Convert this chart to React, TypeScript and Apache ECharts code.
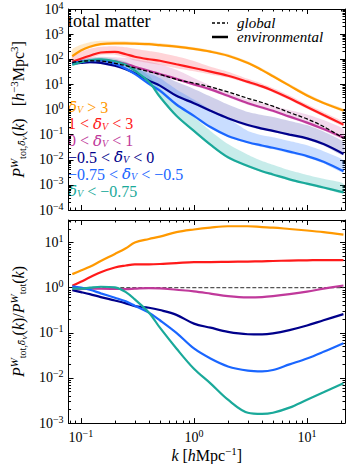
import React, { useEffect, useRef } from "react";
import * as echarts from "echarts";

// wavenumber grid k [h/Mpc]
const K = [0.084, 0.1, 0.12, 0.15, 0.2, 0.25, 0.3, 0.4, 0.5, 0.7, 1, 1.4, 2, 3, 4, 5, 7, 10, 14, 21];

// top panel: power spectra [h^-3 Mpc^3]
const pGlobal = [74, 83, 87, 85, 69, 56, 45, 32, 25, 15.8, 11.2, 7.9, 5.0, 2.8, 1.9, 1.35, 0.76, 0.42, 0.21, 0.072];
const pOrange = [132, 224, 316, 398, 427, 427, 417, 398, 363, 316, 257, 200, 138, 71, 37, 21, 8.9, 3.6, 1.8, 0.91];
const pOrangeLo = [117, 200, 282, 355, 380, 380, 372, 355, 324, 282, 229, 178, 123, 63, 33, 19, 7.9, 3.2, 1.6, 0.81];
const pOrangeHi = [250, 380, 480, 540, 540, 520, 500, 480, 440, 370, 300, 235, 162, 84, 44, 25, 10.5, 4.3, 2.1, 1.08];
const pRed = [79, 105, 138, 186, 195, 158, 126, 100, 87, 63, 45, 32, 22, 12.6, 8.3, 5.6, 2.8, 1.26, 0.6, 0.25];
const pRedLo = [63, 83, 110, 148, 151, 117, 89, 71, 60, 44, 33, 25, 18.6, 10.7, 7.1, 4.8, 2.4, 1.07, 0.51, 0.21];
const pRedHi = [141, 200, 263, 316, 331, 302, 263, 214, 182, 132, 85, 50, 32, 16.6, 10.7, 7.2, 3.6, 1.6, 0.78, 0.32];
const pMagenta = [69, 79, 87, 91, 83, 66, 50, 35, 26, 16.6, 10, 6.3, 3.5, 1.78, 1.2, 0.89, 0.52, 0.3, 0.166, 0.076];
const pMagentaLo = [60, 69, 76, 79, 72, 58, 44, 31, 23, 14.5, 8.7, 5.5, 3.1, 1.55, 1.05, 0.78, 0.46, 0.26, 0.145, 0.066];
const pMagentaHi = [89, 105, 117, 126, 120, 112, 100, 79, 63, 38, 17.8, 8.9, 4.8, 2.5, 1.78, 1.41, 0.95, 0.63, 0.38, 0.166];
const pNavy = [68, 72, 76, 72, 55, 40, 28, 14.1, 8.9, 3.5, 1.78, 0.89, 0.45, 0.24, 0.174, 0.141, 0.1, 0.071, 0.042, 0.017];
const pNavyLo = [60, 65, 68, 65, 49, 35, 25, 12.6, 7.9, 3.2, 1.58, 0.79, 0.4, 0.21, 0.155, 0.126, 0.089, 0.063, 0.037, 0.015];
const pNavyHi = [89, 95, 100, 95, 79, 66, 52, 35, 26, 12.6, 6.6, 3.3, 1.58, 0.79, 0.6, 0.5, 0.35, 0.24, 0.132, 0.05];
const pBlue = [72, 79, 87, 89, 66, 42, 26, 10.5, 5.6, 1.58, 0.56, 0.2, 0.089, 0.05, 0.037, 0.03, 0.021, 0.014, 0.0083, 0.0035];
const pBlueLo = [63, 69, 76, 78, 58, 36, 23, 9.1, 4.9, 1.38, 0.49, 0.174, 0.078, 0.044, 0.032, 0.026, 0.018, 0.0123, 0.0072, 0.0031];
const pBlueHi = [89, 95, 105, 107, 89, 63, 45, 28, 17.8, 6.3, 2.5, 1.0, 0.45, 0.141, 0.095, 0.079, 0.056, 0.038, 0.022, 0.0095];
const pTeal = [60, 76, 91, 100, 83, 60, 35, 12.6, 3.2, 0.56, 0.141, 0.04, 0.0126, 0.0056, 0.0035, 0.0026, 0.00166, 0.00112, 0.00079, 0.0005];
const pTealLo = [54, 68, 81, 89, 74, 54, 32, 11.2, 2.8, 0.5, 0.126, 0.035, 0.0112, 0.005, 0.0032, 0.0023, 0.00148, 0.001, 0.00071, 0.00045];
const pTealHi = [72, 91, 110, 120, 105, 79, 52, 22, 7.1, 1.78, 0.5, 0.141, 0.042, 0.0158, 0.0089, 0.0063, 0.0038, 0.0025, 0.00174, 0.00112];

// bottom panel: ratio to global
const rGlobal = [1, 1, 1, 1, 1, 1, 1, 1, 1, 1, 1, 1, 1, 1, 1, 1, 1, 1, 1, 1];
const rOrange = [2.0, 2.4, 2.9, 3.9, 5.6, 7.5, 10, 12, 13.5, 17, 19.5, 21.5, 23, 23, 22, 21.5, 20, 18.5, 17, 15];
const rRed = [1.1, 1.35, 1.7, 2.2, 2.8, 3.1, 3.3, 3.3, 3.35, 3.5, 3.7, 3.7, 3.75, 3.8, 3.85, 3.9, 4.0, 4.05, 4.1, 4.1];
const rMagenta = [0.9, 0.93, 0.95, 0.95, 0.94, 0.93, 0.95, 0.98, 0.97, 0.9, 0.83, 0.74, 0.65, 0.61, 0.62, 0.65, 0.72, 0.82, 0.95, 1.12];
const rNavy = [0.88, 0.8, 0.72, 0.62, 0.52, 0.45, 0.39, 0.36, 0.32, 0.25, 0.16, 0.13, 0.105, 0.093, 0.092, 0.097, 0.115, 0.145, 0.19, 0.26];
const rBlue = [1.07, 1.0, 0.9, 0.75, 0.6, 0.5, 0.4, 0.28, 0.19, 0.1, 0.045, 0.027, 0.018, 0.0145, 0.014, 0.015, 0.02, 0.027, 0.038, 0.059];
const rTeal = [0.95, 0.95, 1.0, 1.05, 1.02, 0.8, 0.55, 0.28, 0.13, 0.045, 0.016, 0.0076, 0.0033, 0.0017, 0.0016, 0.0017, 0.0022, 0.0033, 0.0048, 0.0076];

const COLORS = {
  orange: "#ff9900",
  red: "#ff1a1a",
  magenta: "#c0399b",
  navy: "#00008b",
  blue: "#1a66ff",
  teal: "#1aa99a",
};
const BANDS = {
  orange: "rgba(255,153,0,0.22)",
  red: "rgba(255,40,60,0.2)",
  magenta: "rgba(200,80,170,0.22)",
  navy: "rgba(40,40,160,0.22)",
  blue: "rgba(40,120,255,0.25)",
  teal: "rgba(30,180,170,0.25)",
};

const LEGEND_LABELS = [
  { text: "{d|δ̄}{s|V}{n| > 3}", color: COLORS.orange },
  { text: "{n|1 < }{d|δ̄}{s|V}{n| < 3}", color: COLORS.red },
  { text: "{n|0 < }{d|δ̄}{s|V}{n| < 1}", color: COLORS.magenta },
  { text: "{n|−0.5 < }{d|δ̄}{s|V}{n| < 0}", color: COLORS.navy },
  { text: "{n|−0.75 < }{d|δ̄}{s|V}{n| < −0.5}", color: COLORS.blue },
  { text: "{d|δ̄}{s|V}{n| < −0.75}", color: COLORS.teal },
];

const FONT = "'Liberation Serif', 'DejaVu Serif', serif";
const DFONT = "'DejaVu Serif', serif";
const L = Math.log10;

const X_MIN = -1.109;
const X_MAX = 1.336;

function minorTicks(dFrom: number, dTo: number, extra: number[] = []) {
  const out: number[] = [];
  for (let d = dFrom; d <= dTo; d++) for (let m = 2; m <= 9; m++) out.push(d + L(m));
  return out.concat(extra);
}
const xMajor = [-1, 0, 1];
const xMinor = [L(0.08), L(0.09)].concat(minorTicks(-1, 0), [L(20)]);
const yTopMajor = [-4, -3, -2, -1, 0, 1, 2, 3, 4];
const yTopMinor = minorTicks(-4, 3);
const yBotMajor = [-3, -2, -1, 0, 1];
const yBotMinor = minorTicks(-3, 0, [1 + L(2), 1 + L(3)]);

const powLabel = (v: number) => {
  const e = Math.round(v);
  return `{b|10}{s|${e < 0 ? "−" + -e : e}}`;
};
const tickRich = {
  b: { fontSize: 14, fontFamily: FONT, color: "#000" },
  s: { fontSize: 10, fontFamily: FONT, color: "#000", padding: [0, 0, 8, 0] },
};
const titleRich = {
  n: { fontSize: 16, fontFamily: FONT, color: "#000" },
  i: { fontSize: 16, fontFamily: FONT, fontStyle: "italic", color: "#000" },
  sup: { fontSize: 11, fontFamily: FONT, fontStyle: "italic", color: "#000", padding: [0, 0, 9, 0] },
  supn: { fontSize: 11, fontFamily: FONT, color: "#000", padding: [0, 0, 9, 0] },
  sub: { fontSize: 10, fontFamily: FONT, color: "#000", padding: [8, 0, 0, 0] },
  subi: { fontSize: 9, fontFamily: DFONT, fontStyle: "italic", color: "#000", padding: [8, 0, 0, 0] },
  subsub: { fontSize: 7, fontFamily: FONT, fontStyle: "italic", color: "#000", padding: [13, 0, 0, 0] },
};

function axisSet(
  dim: "x" | "y",
  gridIndex: number,
  min: number,
  max: number,
  major: number[],
  minor: number[],
  showLabels: boolean,
  name?: string,
  nameGap?: number
) {
  const posA = dim === "x" ? "bottom" : "left";
  const posB = dim === "x" ? "top" : "right";
  const base = (position: string, ticks: number[], len: number, line: boolean, labels: boolean) => ({
    type: "value",
    gridIndex,
    position,
    min,
    max,
    axisLine: { show: line, onZero: false, lineStyle: { color: "#000", width: 1 } },
    axisTick: { show: true, inside: true, length: len, customValues: ticks, lineStyle: { color: "#000", width: 1 } },
    axisLabel: labels
      ? { show: true, customValues: major, formatter: powLabel, rich: tickRich, margin: 5, color: "#000" }
      : { show: false },
    splitLine: { show: false },
  });
  const main: any = base(posA, major, 5, true, showLabels);
  if (name) {
    main.name = name;
    main.nameLocation = "middle";
    main.nameGap = nameGap;
    main.nameTextStyle = { rich: titleRich, color: "#000" };
  }
  return [main, base(posA, minor, 2.5, false, false), base(posB, major, 5, true, false), base(posB, minor, 2.5, false, false)];
}

function lineSeries(vals: number[], color: string, axis: number, extra: any = {}) {
  return {
    type: "line",
    xAxisIndex: axis,
    yAxisIndex: axis,
    data: K.map((k, i) => [L(k), L(vals[i])]),
    showSymbol: false,
    smooth: 0.35,
    silent: true,
    lineStyle: { color, width: 2.2 },
    z: 3,
    ...extra,
  };
}

function bandSeries(lo: number[], hi: number[], fill: string) {
  const data = K.map((k, i) => [L(k), L(lo[i]), L(hi[i])]);
  return {
    type: "custom",
    xAxisIndex: 0,
    yAxisIndex: 0,
    silent: true,
    z: 1,
    data,
    encode: { x: 0, y: [1, 2] },
    renderItem: (params: any, api: any) => {
      if (params.dataIndex !== 0) return null;
      const up = data.map((d) => api.coord([d[0], d[2]]));
      const dn = data.map((d) => api.coord([d[0], d[1]])).reverse();
      return { type: "polygon", shape: { points: up.concat(dn), smooth: 0.2 }, style: { fill } };
    },
  };
}

export default function App() {
  const ref = useRef<HTMLDivElement>(null);
  useEffect(() => {
    if (!ref.current) return;
    const chart = echarts.init(ref.current, undefined, { renderer: "svg" });
    const topName =
      "{i|P}{sup|W}{sub|tot,}{subi|δ̄}{subsub|V}{n|(}{i|k}{n|)   [}{i|h}{supn|−3}{n|Mpc}{supn|3}{n|]}";
    const botName =
      "{i|P}{sup|W}{sub|tot,}{subi|δ̄}{subsub|V}{n|(}{i|k}{n|)/}{i|P}{sup|W}{sub|tot}{n|(}{i|k}{n|)}";
    const xName = "{i|k}{n| [}{i|h}{n|Mpc}{supn|−1}{n|]}";

    const xAxes = [
      ...axisSet("x", 0, X_MIN, X_MAX, xMajor, xMinor, false),
      ...axisSet("x", 1, X_MIN, X_MAX, xMajor, xMinor, true, xName, 17),
    ];
    const yAxes = [
      ...axisSet("y", 0, -4, 4, yTopMajor, yTopMinor, true, topName, 34),
      ...axisSet("y", 1, -3, 1.5, yBotMajor, yBotMinor, true, botName, 33),
    ];

    const legendRows = LEGEND_LABELS.map((row, i) => ({
      type: "text",
      x: 68,
      y: 107 + i * 16.8,
      silent: true,
      style: {
        text: row.text,
        fill: row.color,
        verticalAlign: "middle",
        align: "left",
        rich: {
          n: { fontSize: 16, lineHeight: 15, fontFamily: FONT, fill: row.color },
          d: { fontSize: 15, lineHeight: 15, fontFamily: DFONT, fontStyle: "italic", fill: row.color },
          s: { fontSize: 10, lineHeight: 10, fontFamily: FONT, fontStyle: "italic", fill: row.color, padding: [5, 0, 0, 0] },
        },
      },
    }));

    chart.setOption({
      animation: false,
      backgroundColor: "#fff",
      grid: [
        { left: 54, right: 2, top: 5, height: 205 },
        { left: 54, right: 2, top: 220, height: 209 },
      ],
      xAxis: xAxes,
      yAxis: yAxes,
      graphic: [
        {
          type: "text",
          x: 68,
          y: 21,
          silent: true,
          style: { text: "total matter", fill: "#000", font: `18px ${FONT}`, verticalAlign: "middle", align: "left" },
        },
        {
          type: "line",
          silent: true,
          shape: { x1: 212, y1: 23, x2: 228, y2: 23 },
          style: { stroke: "#000", lineWidth: 1.5, lineDash: [3, 2] },
        },
        {
          type: "line",
          silent: true,
          shape: { x1: 212, y1: 37, x2: 228, y2: 37 },
          style: { stroke: "#000", lineWidth: 2.5 },
        },
        {
          type: "text",
          x: 237,
          y: 22.5,
          silent: true,
          style: { text: "global", fill: "#000", font: `italic 15px ${FONT}`, verticalAlign: "middle", align: "left" },
        },
        {
          type: "text",
          x: 237,
          y: 37,
          silent: true,
          style: { text: "environmental", fill: "#000", font: `italic 15px ${FONT}`, verticalAlign: "middle", align: "left" },
        },
        ...legendRows,
      ],
      series: [
        bandSeries(pOrangeLo, pOrangeHi, BANDS.orange),
        bandSeries(pRedLo, pRedHi, BANDS.red),
        bandSeries(pMagentaLo, pMagentaHi, BANDS.magenta),
        bandSeries(pNavyLo, pNavyHi, BANDS.navy),
        bandSeries(pBlueLo, pBlueHi, BANDS.blue),
        bandSeries(pTealLo, pTealHi, BANDS.teal),
        lineSeries(pOrange, COLORS.orange, 0),
        lineSeries(pRed, COLORS.red, 0),
        lineSeries(pMagenta, COLORS.magenta, 0),
        lineSeries(pNavy, COLORS.navy, 0),
        lineSeries(pBlue, COLORS.blue, 0),
        lineSeries(pTeal, COLORS.teal, 0),
        lineSeries(pGlobal, "#000", 0, { lineStyle: { color: "#000", width: 1.3, type: [4, 2] }, z: 5 }),
        lineSeries(rGlobal, "#555", 4, { lineStyle: { color: "#555", width: 1.3, type: [4, 2] }, z: 2 }),
        lineSeries(rOrange, COLORS.orange, 4),
        lineSeries(rRed, COLORS.red, 4),
        lineSeries(rMagenta, COLORS.magenta, 4),
        lineSeries(rNavy, COLORS.navy, 4),
        lineSeries(rBlue, COLORS.blue, 4),
        lineSeries(rTeal, COLORS.teal, 4),
      ],
    });
    return () => chart.dispose();
  }, []);
  return (
    <div
      ref={ref}
      style={{ position: "absolute", left: 0, top: 0, width: 347, height: 464, background: "#fff" }}
    />
  );
}
